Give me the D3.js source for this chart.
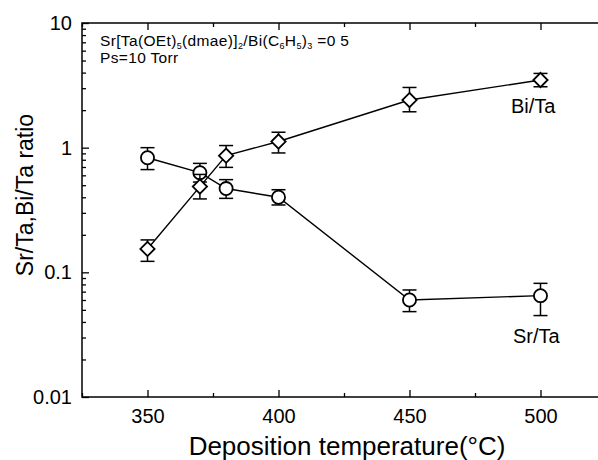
<!DOCTYPE html>
<html>
<head>
<meta charset="utf-8">
<script src="https://cdn.jsdelivr.net/npm/d3@7"></script>
<style>
  body { margin: 0; background: #fff; }
  text { font-family: "Liberation Sans", Arial, sans-serif; fill: #000; }
</style>
</head>
<body>
<div id="chart"></div>
<script>
// data
var temps = [350, 370, 380, 400, 450, 500];

var srTa = [0.83, 0.63, 0.47, 0.40, 0.060, 0.065];
var srTaLo = [0.667, 0.53, 0.392, 0.347, 0.0484, 0.045];
var srTaHi = [1.0, 0.748, 0.554, 0.46, 0.0722, 0.0816];

var biTa = [0.154, 0.487, 0.863, 1.12, 2.41, 3.49];
var biTaLo = [0.1225, 0.388, 0.695, 0.907, 1.94, 3.08];
var biTaHi = [0.182, 0.61, 1.04, 1.33, 3.04, 3.94];

var xTicks = [350, 400, 450, 500];
var xMinor = [325, 375, 425, 475, 525];
var yTicks = [0.01, 0.1, 1, 10];
var yTickLabels = ["0.01", "0.1", "1", "10"];

var svgWidth = 598;
var svgHeight = 460;

var margin = { top: 23, right: -8, bottom: 63, left: 82 };
var width = svgWidth - margin.left - margin.right;
var height = svgHeight - margin.top - margin.bottom;

var svg = d3.select("#chart")
  .append("svg")
  .attr("width", svgWidth)
  .attr("height", svgHeight);

var chartGroup = svg.append("g")
  .attr("transform", `translate(${margin.left}, ${margin.top})`);

var x = d3.scaleLinear()
  .domain([325, 525])
  .range([0, width]);

var y = d3.scaleLog()
  .domain([0.01, 10])
  .range([height, 0]);

// minor y ticks 2..9 for each decade
var yMinor = [];
[0.01, 0.1, 1].forEach(function (d) {
  for (var k = 2; k <= 9; k++) yMinor.push(d * k);
});

// frame
chartGroup.append("rect")
  .attr("width", width)
  .attr("height", height)
  .attr("fill", "none")
  .attr("stroke", "#000")
  .attr("stroke-width", 1.5);

// bottom axis (ticks inward)
var bottomAxis = d3.axisBottom(x)
  .tickValues(xTicks)
  .tickSize(-7)
  .tickPadding(12)
  .tickFormat(d3.format("d"));

chartGroup.append("g")
  .attr("transform", `translate(0, ${height})`)
  .call(bottomAxis);

chartGroup.append("g")
  .attr("transform", `translate(0, ${height})`)
  .call(d3.axisBottom(x).tickValues(xMinor).tickSize(-4).tickFormat(""));

// top axis ticks (inward)
chartGroup.append("g")
  .call(d3.axisTop(x).tickValues(xTicks).tickSize(-7).tickFormat(""));
chartGroup.append("g")
  .call(d3.axisTop(x).tickValues(xMinor).tickSize(-4).tickFormat(""));

// left axis
var leftAxis = d3.axisLeft(y)
  .tickValues(yTicks)
  .tickSize(-7)
  .tickPadding(10)
  .tickFormat(function (d, i) { return yTickLabels[i]; });

chartGroup.append("g").call(leftAxis);

chartGroup.append("g")
  .call(d3.axisLeft(y).tickValues(yMinor).tickSize(-4).tickFormat(""));

chartGroup.selectAll(".domain").remove();
chartGroup.selectAll(".tick line").attr("stroke", "#000").attr("stroke-width", 1.3);
chartGroup.selectAll(".tick text")
  .style("font-size", "20px")
  .style("font-family", "'Liberation Sans', Arial, sans-serif");

// series
function drawSeries(vals, lo, hi, shape) {
  var pts = temps.map(function (t, i) {
    return { t: t, v: vals[i], lo: lo[i], hi: hi[i] };
  });

  var line = d3.line()
    .x(d => x(d.t))
    .y(d => y(d.v));

  chartGroup.append("path")
    .datum(pts)
    .attr("d", line)
    .attr("fill", "none")
    .attr("stroke", "#000")
    .attr("stroke-width", 1.4);

  var eb = chartGroup.append("g").selectAll("g")
    .data(pts)
    .enter()
    .append("g")
    .attr("stroke", "#000")
    .attr("stroke-width", 1.5);

  eb.append("line")
    .attr("x1", d => x(d.t)).attr("x2", d => x(d.t))
    .attr("y1", d => y(d.lo)).attr("y2", d => y(d.hi));
  eb.append("line")
    .attr("x1", d => x(d.t) - 7).attr("x2", d => x(d.t) + 7)
    .attr("y1", d => y(d.lo)).attr("y2", d => y(d.lo));
  eb.append("line")
    .attr("x1", d => x(d.t) - 7).attr("x2", d => x(d.t) + 7)
    .attr("y1", d => y(d.hi)).attr("y2", d => y(d.hi));

  var sym = d3.symbol()
    .type(shape === "circle" ? d3.symbolCircle : d3.symbolDiamond2)
    .size(shape === "circle" ? 135 : 130);

  chartGroup.append("g").selectAll("path")
    .data(pts)
    .enter()
    .append("path")
    .attr("d", sym)
    .attr("transform", d => `translate(${x(d.t)}, ${y(d.v)})`)
    .attr("fill", "#fff")
    .attr("stroke", "#000")
    .attr("stroke-width", 1.8);
}

drawSeries(srTa, srTaLo, srTaHi, "circle");
drawSeries(biTa, biTaLo, biTaHi, "diamond");

// series labels
svg.append("text")
  .attr("x", 511)
  .attr("y", 113)
  .style("font-size", "20px")
  .text("Bi/Ta");

svg.append("text")
  .attr("x", 513)
  .attr("y", 343)
  .style("font-size", "20px")
  .text("Sr/Ta");

// annotation, main text then subscripts
var noteParts = [
  ["Sr[Ta(OEt)", "5"],
  ["(dmae)]", "2"],
  ["/Bi(C", "6"],
  ["H", "5"],
  [")", "3"],
  [" =0 5", ""]
];

var note = svg.append("text")
  .attr("x", 100)
  .attr("y", 46)
  .style("font-size", "15.5px")
  .style("letter-spacing", "0.35px");

noteParts.forEach(function (p, i) {
  note.append("tspan").attr("dy", i === 0 ? 0 : -3).text(p[0]);
  if (p[1]) {
    note.append("tspan").attr("dy", 3).style("font-size", "9px").text(p[1]);
  }
});

svg.append("text")
  .attr("x", 100)
  .attr("y", 62.5)
  .style("font-size", "15.5px")
  .style("letter-spacing", "0.35px")
  .text("Ps=10 Torr");

// axis titles
svg.append("text")
  .attr("transform", "translate(33, 195) rotate(-90)")
  .style("text-anchor", "middle")
  .style("font-size", "23px")
  .text("Sr/Ta,Bi/Ta ratio");

svg.append("text")
  .attr("x", 347)
  .attr("y", 455)
  .style("text-anchor", "middle")
  .style("font-size", "26px")
  .text("Deposition temperature(°C)");
</script>
</body>
</html>
